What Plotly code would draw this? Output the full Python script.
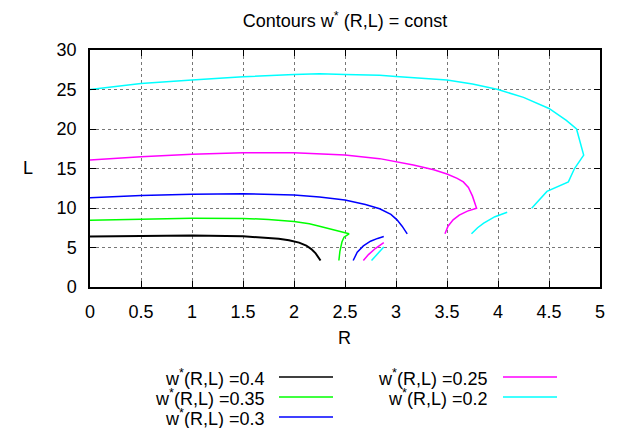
import plotly.graph_objects as go

# ---- data (None separates branches of one contour) ----
levels = ["0.4", "0.35", "0.3", "0.25", "0.2"]
colors = ["#000000", "#00ff00", "#0000ff", "#ff00ff", "#00ffff"]
widths = [2.0, 1.5, 1.5, 1.5, 1.5]

R_04 = [0, 0.5, 1.0, 1.5, 1.7, 1.85, 1.95, 2.05, 2.12, 2.17, 2.21, 2.24, 2.26]
L_04 = [6.39, 6.48, 6.52, 6.42, 6.28, 6.1, 5.92, 5.62, 5.25, 4.8, 4.3, 3.8, 3.36]

R_035 = [0, 0.5, 1.0, 1.5, 1.75, 2.0, 2.15, 2.25, 2.35, 2.45, 2.54,
         2.49, 2.47, 2.45, 2.44]
L_035 = [8.46, 8.62, 8.7, 8.68, 8.55, 8.3, 8.0, 7.7, 7.35, 7.0, 6.73,
         6.3, 5.7, 4.5, 3.36]

R_03 = [0, 0.5, 1.0, 1.5, 2.0, 2.25, 2.5, 2.7, 2.84, 2.95, 3.01, 3.06, 3.11,
        None, 2.58, 2.62, 2.68, 2.75, 2.82, 2.88]
L_03 = [11.3, 11.57, 11.74, 11.8, 11.65, 11.4, 11.0, 10.45, 9.9, 9.2, 8.5, 7.7, 6.73,
        None, 3.36, 4.4, 5.2, 5.8, 6.15, 6.39]

R_025 = [0, 0.5, 1.0, 1.5, 2.0, 2.5, 2.84, 3.0, 3.17, 3.37, 3.5, 3.6, 3.66, 3.71, 3.75, 3.79,
         3.7, 3.62, 3.56, 3.51, 3.48, None, 2.68, 2.73, 2.8, 2.88]
L_025 = [16.07, 16.5, 16.8, 17.0, 17.0, 16.7, 16.25, 15.9, 15.45, 14.85, 14.3, 13.75, 13.3, 12.6, 11.5, 9.97,
         9.6, 9.1, 8.5, 7.7, 6.73, None, 3.36, 4.1, 4.9, 5.63]

R_02 = [0, 0.5, 1.0, 1.5, 2.0, 2.25, 2.5, 2.84, 3.0, 3.25, 3.5, 3.75, 4.0, 4.25, 4.5, 4.67, 4.77, 4.84,
        4.75, 4.69, 4.48, 4.33, None, 3.74, 3.8, 3.86, 3.97, 4.09, None, 2.76, 2.88]
L_02 = [25.0, 25.75, 26.2, 26.6, 26.9, 27.0, 26.9, 26.8, 26.65, 26.45, 26.2, 25.7, 25.0, 24.0, 22.6, 21.1, 20.0, 16.7,
        15.0, 13.3, 12.1, 9.97, None, 6.73, 7.5, 8.08, 8.9, 9.47, None, 3.36, 5.05]

series_R = [R_04, R_035, R_03, R_025, R_02]
series_L = [L_04, L_035, L_03, L_025, L_02]

FONT = "Liberation Sans, Arial, sans-serif"
W, H = 618, 428
ML, MR, MT, MB = 90, 18, 50, 141

fig = go.Figure()
for lev, col, w, rr, ll in zip(levels, colors, widths, series_R, series_L):
    fig.add_trace(go.Scatter(x=rr, y=ll, mode="lines", name="w*(R,L) =" + lev,
                             line=dict(color=col, width=w), connectgaps=False,
                             showlegend=False))

# pixel -> paper helpers (for legend placement only)
pw, ph = W - ML - MR, H - MT - MB
def px(x):
    return (x - ML) / pw
def py(y):
    return (H - MB - y) / ph

# custom gnuplot-style legend: right-aligned text, line sample on the right
legend_pos = [  # (text right edge px, row y px, sample x0, sample x1)
    (266, 377, 279, 333),
    (266, 397, 279, 333),
    (266, 417, 279, 333),
    (489, 377, 503, 557),
    (489, 397, 503, 557),
]
annotations = []
shapes = []
for lev, col, (tx, ty, sx0, sx1) in zip(levels, colors, legend_pos):
    annotations.append(dict(x=px(tx), y=py(ty), xref="paper", yref="paper",
                            text="w<sup>*</sup>(R,L) =" + lev, showarrow=False,
                            xanchor="right", yanchor="middle",
                            font=dict(family=FONT, size=18, color="black")))
    shapes.append(dict(type="line", xref="paper", yref="paper",
                       x0=px(sx0), x1=px(sx1), y0=py(ty), y1=py(ty),
                       line=dict(color=col, width=1.5)))

annotations.append(dict(x=px(344), y=py(338), xref="paper", yref="paper", text="R",
                        showarrow=False, xanchor="center", yanchor="middle",
                        font=dict(family=FONT, size=18, color="black")))
annotations.append(dict(x=px(28), y=py(168), xref="paper", yref="paper", text="L",
                        showarrow=False, xanchor="center", yanchor="middle",
                        font=dict(family=FONT, size=18, color="black")))

axis_common = dict(showline=True, linecolor="black", linewidth=1.5, mirror="allticks",
                   ticks="inside", ticklen=6, tickcolor="black", tickwidth=1,
                   showgrid=True, gridcolor="#777777", griddash="dot", gridwidth=1,
                   zeroline=False, tickfont=dict(family=FONT, size=18, color="black"),
                   ticklabelstandoff=8)

fig.update_layout(
    width=W, height=H, autosize=False,
    margin=dict(l=ML, r=MR, t=MT, b=MB),
    paper_bgcolor="white", plot_bgcolor="white",
    title=dict(text="Contours w<sup>*</sup> (R,L) = const", x=0.5, xref="paper",
               y=1 - 21 / H, yref="container", xanchor="center", yanchor="middle",
               font=dict(family=FONT, size=18, color="black")),
    xaxis=dict(range=[0, 5], dtick=0.5, tick0=0, **axis_common),
    yaxis=dict(range=[0, 30], dtick=5, tick0=0, **axis_common),
    annotations=annotations, shapes=shapes,
)

fig.write_html("out.html")
